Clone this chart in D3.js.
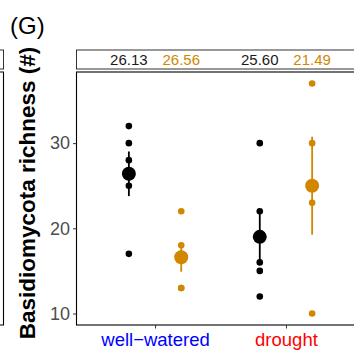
<!DOCTYPE html>
<html>
<head>
<meta charset="utf-8">
<script src="https://cdn.jsdelivr.net/npm/d3@7"></script>
<style>
  body { margin: 0; background: #fff; }
  text { font-family: "Liberation Sans", Arial, sans-serif; }
</style>
</head>
<body>
<div id="chart"></div>
<script>
// categories and groups
const treatments = ['well-watered', 'drought'];
const treatmentLabels = ['well\u2212watered', 'drought'];
const treatmentColors = ['#0000ff', '#ff0000'];
const groups = ['a', 'b'];
const groupColors = ['#000000', '#d18700'];

// raw richness values per treatment and group
const wellWateredA = [32, 30, 28, 25, 17];
const wellWateredB = [22, 18, 17, 13, 13];
const droughtA = [30, 22, 16, 15, 12];
const droughtB = [37, 30, 23, 10];

// strip labels
const stripLabels = [
  {treatment: 'well-watered', group: 'a', label: '26.13'},
  {treatment: 'well-watered', group: 'b', label: '26.56'},
  {treatment: 'drought', group: 'a', label: '25.60'},
  {treatment: 'drought', group: 'b', label: '21.49'}
];

const yTicks = [10, 20, 30];

const series = [
  {treatment: 'well-watered', group: 'a', values: wellWateredA},
  {treatment: 'well-watered', group: 'b', values: wellWateredB},
  {treatment: 'drought', group: 'a', values: droughtA},
  {treatment: 'drought', group: 'b', values: droughtB}
];

series.forEach(function(s) {
  const n = s.values.length;
  s.mean = d3.mean(s.values);
  s.se = d3.deviation(s.values) / Math.sqrt(n);
});

const width = 354, height = 354;
const panel = {left: 76.5, right: 364.5, top: 72, bottom: 325};
const strip = {top: 50, bottom: 69};

const svg = d3.select('#chart')
  .append('svg')
  .attr('width', width)
  .attr('height', height);

const x = d3.scalePoint()
  .domain(treatments)
  .range([panel.left, panel.right])
  .padding(0.6);

const dodge = d3.scalePoint()
  .domain(groups)
  .range([-x.step() * 0.2, x.step() * 0.2]);

const y = d3.scaleLinear()
  .domain([8.65, 38.35])
  .range([panel.bottom, panel.top]);

const color = d3.scaleOrdinal().domain(groups).range(groupColors);

// title
svg.append('text')
  .attr('x', 10)
  .attr('y', 34)
  .attr('font-size', 24)
  .text('(G)');

// neighbouring panel edge on the left
svg.append('rect')
  .attr('x', -20).attr('y', strip.top)
  .attr('width', 23.5).attr('height', strip.bottom - strip.top)
  .attr('fill', 'white').attr('stroke', '#333').attr('stroke-width', 1);
svg.append('path')
  .attr('d', `M-20,${panel.top}H3.5V${panel.bottom}H-20`)
  .attr('fill', 'none').attr('stroke', 'black').attr('stroke-width', 1.1);

// strip
svg.append('rect')
  .attr('x', panel.left).attr('y', strip.top)
  .attr('width', panel.right - panel.left).attr('height', strip.bottom - strip.top)
  .attr('fill', 'white').attr('stroke', '#333').attr('stroke-width', 1);

svg.selectAll('.strip-label')
  .data(stripLabels)
  .enter()
  .append('text')
  .attr('class', 'strip-label')
  .attr('x', function(d) { return x(d.treatment) + dodge(d.group); })
  .attr('y', 65)
  .attr('text-anchor', 'middle')
  .attr('font-size', 15)
  .attr('fill', function(d) { return d.group === 'a' ? '#1a1a1a' : color(d.group); })
  .text(function(d) { return d.label; });

// panel frame
svg.append('rect')
  .attr('x', panel.left).attr('y', panel.top)
  .attr('width', panel.right - panel.left).attr('height', panel.bottom - panel.top)
  .attr('fill', 'none').attr('stroke', 'black').attr('stroke-width', 1.1);

// y axis
const yAxis = svg.append('g')
  .attr('transform', `translate(${panel.left}, 0)`)
  .call(d3.axisLeft(y).tickValues(yTicks).tickSize(3.5).tickPadding(3));
yAxis.select('.domain').remove();
yAxis.selectAll('line').attr('stroke', '#333');
yAxis.selectAll('text')
  .attr('font-size', 18)
  .attr('fill', '#4d4d4d')
  .attr('font-family', '"Liberation Sans", Arial, sans-serif');

// x axis
const xAxis = svg.append('g')
  .attr('transform', `translate(0, ${panel.bottom})`)
  .call(d3.axisBottom(x).tickSize(3.5).tickPadding(4)
    .tickFormat(function(d, i) { return treatmentLabels[i]; }));
xAxis.select('.domain').remove();
xAxis.selectAll('line').attr('stroke', '#333');
xAxis.selectAll('text')
  .attr('font-size', 18.5)
  .attr('font-family', '"Liberation Sans", Arial, sans-serif')
  .attr('fill', function(d, i) { return treatmentColors[i]; });

// y label
svg.append('text')
  .attr('transform', 'translate(35, 193) rotate(-90)')
  .attr('text-anchor', 'middle')
  .attr('font-size', 22.5)
  .attr('font-weight', 'bold')
  .text('Basidiomycota richness (#)');

// raw points
const points = [];
series.forEach(function(s) {
  s.values.forEach(function(v) {
    points.push({treatment: s.treatment, group: s.group, value: v});
  });
});

svg.selectAll('.pt')
  .data(points)
  .enter()
  .append('circle')
  .attr('class', 'pt')
  .attr('cx', function(d) { return x(d.treatment) + dodge(d.group); })
  .attr('cy', function(d) { return y(d.value); })
  .attr('r', 3.3)
  .attr('fill', function(d) { return color(d.group); });

// error bars (mean +/- se)
svg.selectAll('.err')
  .data(series)
  .enter()
  .append('line')
  .attr('class', 'err')
  .attr('x1', function(d) { return x(d.treatment) + dodge(d.group); })
  .attr('x2', function(d) { return x(d.treatment) + dodge(d.group); })
  .attr('y1', function(d) { return y(d.mean - d.se); })
  .attr('y2', function(d) { return y(d.mean + d.se); })
  .attr('stroke', function(d) { return color(d.group); })
  .attr('stroke-width', 1.8);

// means
svg.selectAll('.mean')
  .data(series)
  .enter()
  .append('circle')
  .attr('class', 'mean')
  .attr('cx', function(d) { return x(d.treatment) + dodge(d.group); })
  .attr('cy', function(d) { return y(d.mean); })
  .attr('r', 7)
  .attr('fill', function(d) { return color(d.group); });
</script>
</body>
</html>
